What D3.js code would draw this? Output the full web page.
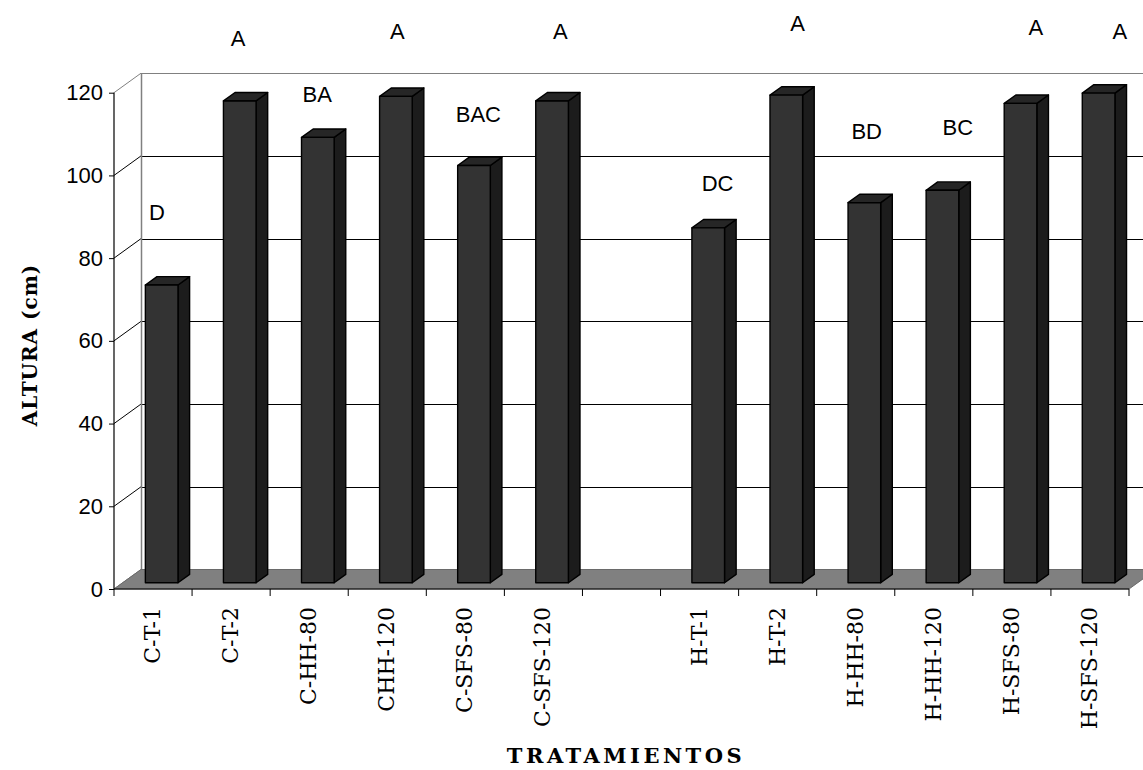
<!DOCTYPE html>
<html>
<head>
<meta charset="utf-8">
<script src="https://cdn.jsdelivr.net/npm/d3@7"></script>
<style>
  html, body { margin: 0; padding: 0; background: #fff; }
  svg { display: block; }
</style>
</head>
<body>
<svg id="chart" width="1143" height="770"></svg>
<script>
// Treatments (the empty entry is the gap between the C and H groups)
const tratamientos = ["C-T-1", "C-T-2", "C-HH-80", "CHH-120", "C-SFS-80", "C-SFS-120", "",
                      "H-T-1", "H-T-2", "H-HH-80", "H-HH-120", "H-SFS-80", "H-SFS-120"];
// Mean plant height (cm)
const altura = [72.0, 116.5, 107.7, 117.6, 100.9, 116.5, null,
                85.8, 117.9, 91.9, 94.9, 115.9, 118.4];
// Significance groups
const grupos = ["D", "A", "BA", "A", "BAC", "A", "",
                "DC", "A", "BD", "BC", "A", "A"];
const yTicks = [0, 20, 40, 60, 80, 100, 120];

// Letter placement: horizontal shift (px) from slot centre and height in axis units
const letraDx = [4, 7, 8, 10, 13, 17, 0, 18, 20, 11, 24, 24, 30];
const letraNivel = [89.2, 131.3, 117.8, 133.1, 113.0, 133.1, 0, 96.2, 135.0, 108.7, 109.8, 133.9, 133.1];

const svg = d3.select("#chart");

// 3-D frame: front plane and depth vector toward the back wall
const depth = { dx: 27, dy: -19.5 };
const x = d3.scaleBand().domain(d3.range(tratamientos.length)).range([114, 1129]).padding(0);
const y = d3.scaleLinear().domain([0, 120]).range([589, 92.7]);

const f1 = 0.32, f2 = 0.75;           // bar depth span (fraction of the floor depth)
const barW = x.bandwidth() * 0.418;

const grid = svg.append("g");
// back wall gridlines and side wall connectors
yTicks.forEach(v => {
  const yb = y(v) + depth.dy;
  const col = v === 120 ? "#808080" : "#000";
  if (v > 0) {
    grid.append("line")
      .attr("x1", x.range()[0] + depth.dx).attr("x2", 1143)
      .attr("y1", Math.round(yb) + 0.5).attr("y2", Math.round(yb) + 0.5)
      .attr("stroke", col).attr("stroke-width", 1);
  }
  grid.append("line")
    .attr("x1", x.range()[0]).attr("y1", y(v))
    .attr("x2", x.range()[0] + depth.dx).attr("y2", yb)
    .attr("stroke", v === 120 || v === 0 ? "#808080" : "#000").attr("stroke-width", 1);
});
// back wall left edge
grid.append("line")
  .attr("x1", x.range()[0] + depth.dx + 0.5).attr("x2", x.range()[0] + depth.dx + 0.5)
  .attr("y1", y(120) + depth.dy).attr("y2", y(0) + depth.dy)
  .attr("stroke", "#808080").attr("stroke-width", 1.5);

// floor
const x0 = x.range()[0], x1 = x.range()[1], yf = y(0);
svg.append("path")
  .attr("d", `M${x0},${yf} L${x1},${yf} L${x1 + depth.dx},${yf + depth.dy} L${x0 + depth.dx},${yf + depth.dy} Z`)
  .attr("fill", "#808080").attr("stroke", "#6a6a6a").attr("stroke-width", 1);

// bars
const bars = svg.append("g");
altura.forEach((v, i) => {
  if (v == null) return;
  const c = x(i) + x.bandwidth() / 2;
  const fx = c - barW / 2 + depth.dx * f1;
  const fr = fx + barW;
  const yb = y(0) + depth.dy * f1;
  const yt = y(v) + depth.dy * f1;
  const ddx = depth.dx * (f2 - f1), ddy = depth.dy * (f2 - f1);
  const g = bars.append("g").attr("stroke", "#000").attr("stroke-width", 1.4).attr("stroke-linejoin", "round");
  g.append("path")
    .attr("d", `M${fr},${yb} L${fr + ddx},${yb + ddy} L${fr + ddx},${yt + ddy} L${fr},${yt} Z`)
    .attr("fill", "#1c1c1c");
  g.append("path")
    .attr("d", `M${fx},${yt} L${fr},${yt} L${fr + ddx},${yt + ddy} L${fx + ddx},${yt + ddy} Z`)
    .attr("fill", "#262626");
  g.append("rect")
    .attr("x", fx).attr("y", yt).attr("width", barW).attr("height", yb - yt)
    .attr("fill", "#333333");
});

// value axis (front)
const yAxis = svg.append("g").attr("transform", `translate(${x0},0)`)
  .call(d3.axisLeft(y).tickValues(yTicks).tickSize(5).tickPadding(6));
yAxis.select(".domain").attr("stroke", "#000").attr("stroke-width", 1.2).attr("d", `M0,${y(120)}V${y(0)}`);
yAxis.selectAll(".tick line").attr("stroke", "#000");
yAxis.selectAll(".tick text")
  .attr("font-family", "'Liberation Sans', Arial, sans-serif")
  .attr("font-size", 22).attr("fill", "#000");

// category axis (front)
const xAxis = svg.append("g").attr("transform", `translate(0,${y(0)})`)
  .call(d3.axisBottom(x).tickValues([]).tickSize(0));
xAxis.select(".domain").attr("stroke", "#000").attr("stroke-width", 1.2).attr("d", `M${x0},0H${x1}`);
d3.range(tratamientos.length + 1).forEach(i => {
  const xp = i < tratamientos.length ? x(i) : x1;
  xAxis.append("line").attr("x1", xp).attr("x2", xp).attr("y1", 0).attr("y2", 7)
    .attr("stroke", "#000").attr("stroke-width", 1);
});
tratamientos.forEach((t, i) => {
  if (!t) return;
  const c = x(i) + x.bandwidth() / 2;
  svg.append("text")
    .attr("transform", `translate(${c + 7},${y(0) + 18}) rotate(-90)`)
    .attr("text-anchor", "end")
    .attr("font-family", "'DejaVu Serif', serif")
    .attr("font-size", 22).attr("fill", "#000")
    .text(t);
});

// significance letters
grupos.forEach((g, i) => {
  if (!g) return;
  const c = x(i) + x.bandwidth() / 2;
  svg.append("text")
    .attr("x", c + letraDx[i]).attr("y", y(letraNivel[i]))
    .attr("text-anchor", "middle")
    .attr("font-family", "'Liberation Sans', Arial, sans-serif")
    .attr("font-size", 22).attr("fill", "#000")
    .text(g);
});

// axis titles
svg.append("text")
  .attr("x", 626).attr("y", 763)
  .attr("text-anchor", "middle")
  .attr("font-family", "'DejaVu Serif', serif").attr("font-weight", "bold")
  .attr("font-size", 21).attr("letter-spacing", 3.5)
  .text("TRATAMIENTOS");
svg.append("text")
  .attr("transform", "translate(37,345) rotate(-90)")
  .attr("text-anchor", "middle")
  .attr("font-family", "'DejaVu Serif', serif").attr("font-weight", "bold")
  .attr("font-size", 20).attr("letter-spacing", 1)
  .text("ALTURA (cm)");
</script>
</body>
</html>
